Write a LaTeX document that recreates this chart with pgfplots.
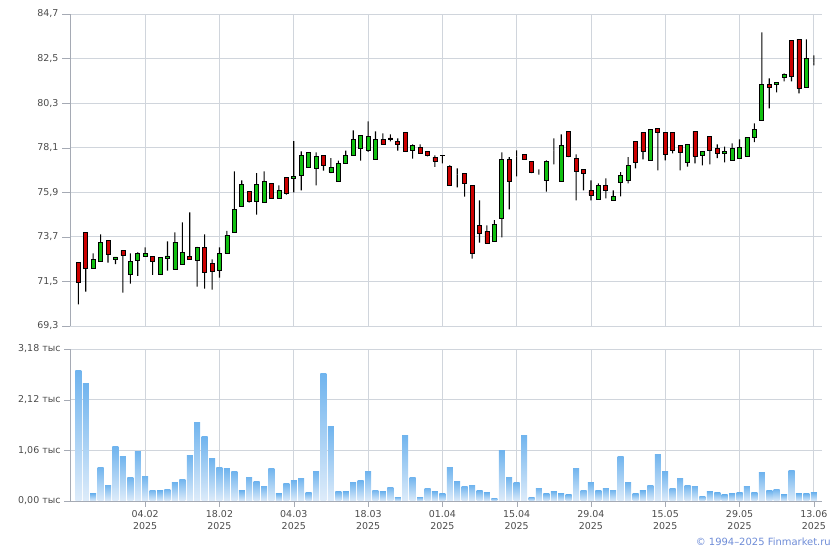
\documentclass[border=0pt]{standalone}
\usepackage{fontspec}
\setmainfont{DejaVu Sans}
\usepackage{pgfplots}
\usepackage{pgfplotstable}
\pgfplotsset{compat=1.18}

\definecolor{gridcol}{RGB}{208,213,220}
\definecolor{axiscol}{RGB}{165,170,180}
\definecolor{txtcol}{RGB}{75,75,75}
\definecolor{upgreen}{RGB}{16,192,16}
\definecolor{downred}{RGB}{204,0,0}
\definecolor{voltop}{RGB}{112,180,238}
\definecolor{volbot}{RGB}{222,236,250}
\definecolor{copyblue}{RGB}{110,140,215}

\newcommand\lbl{\fontsize{9.5}{12}\selectfont}

% daily candles, i = trading day index (22.01.2025 = 0)
\pgfplotstableread{
i o h l c
0 72.44 72.44 70.37 71.46
1 73.92 73.92 71.00 72.15
2 72.15 72.89 72.15 72.59
3 72.48 73.82 72.48 73.43
4 73.53 73.53 72.43 72.84
5 72.58 72.71 72.36 72.71
6 73.03 73.03 70.95 72.77
7 71.84 72.89 71.39 72.49
8 72.53 72.94 71.77 72.86
9 72.72 73.18 72.72 72.86
10 72.74 72.74 71.82 72.48
11 71.84 72.69 71.84 72.69
12 72.63 73.48 72.03 72.76
13 72.10 73.92 72.10 73.43
14 72.33 74.42 72.33 72.94
15 72.74 74.91 72.58 72.58
16 72.54 73.21 71.24 73.18
17 73.18 73.82 71.14 71.93
18 72.39 72.59 71.09 71.98
19 72.05 73.18 71.69 72.89
20 72.89 73.99 72.89 73.78
21 73.92 76.93 73.92 75.06
22 75.21 76.49 75.21 76.29
23 75.95 75.95 75.39 75.45
24 75.45 76.84 74.80 76.29
25 75.40 76.93 75.40 76.44
26 76.34 76.34 75.60 75.60
27 75.60 76.24 75.60 76.00
28 76.64 76.64 75.78 75.85
29 76.59 78.42 75.90 76.69
30 76.74 77.92 76.00 77.72
31 77.13 77.87 77.13 77.87
32 77.08 77.87 76.24 77.67
33 77.72 77.72 76.97 77.23
34 76.89 77.58 76.84 77.13
35 76.44 77.46 76.44 77.33
36 77.33 77.95 77.33 77.72
37 77.72 78.96 77.72 78.51
38 78.05 78.71 77.46 78.71
39 77.95 79.40 77.90 78.66
40 77.53 78.91 77.53 78.51
41 78.51 78.81 78.27 78.27
42 78.58 78.76 78.41 78.50
43 78.41 78.56 77.95 78.27
44 78.86 78.86 77.92 77.92
45 77.97 78.27 77.56 78.22
46 78.12 78.27 77.79 77.82
47 77.92 77.92 77.67 77.72
48 77.63 77.72 77.16 77.43
49 77.72 77.72 77.33 77.70
50 77.18 77.23 76.24 76.24
51 76.77 77.08 76.14 76.77
52 76.84 76.84 75.68 76.34
53 76.24 76.24 72.62 72.87
54 74.27 75.50 73.41 73.87
55 73.97 74.27 73.38 73.38
56 73.48 74.52 73.48 74.32
57 74.61 77.87 73.68 77.53
58 77.53 77.63 75.06 76.44
59 77.67 77.97 76.69 77.67
60 77.77 77.77 77.53 77.53
61 77.43 77.43 76.84 76.89
62 76.77 77.03 76.77 76.77
63 76.49 77.48 75.93 77.43
64 77.97 78.56 77.28 77.97
65 76.44 78.76 76.44 78.22
66 78.91 78.91 77.63 77.67
67 77.58 77.77 75.50 76.93
68 77.03 77.03 76.00 76.84
69 76.00 76.49 75.50 75.75
70 75.55 76.34 75.55 76.24
71 76.24 76.59 75.60 76.00
72 75.50 76.00 75.50 75.70
73 76.39 76.89 75.70 76.74
74 76.49 77.63 76.34 77.23
75 78.41 78.41 77.08 77.38
76 78.86 78.86 77.53 77.92
77 77.48 79.00 77.48 79.00
78 79.06 79.06 76.98 78.86
79 78.86 78.86 77.48 77.77
80 78.86 78.86 77.82 77.97
81 78.22 78.22 76.98 77.87
82 77.38 78.27 77.17 78.27
83 78.91 78.91 77.33 77.67
84 77.72 77.92 77.23 77.92
85 78.66 78.66 77.28 77.97
86 78.07 78.27 77.58 77.82
87 77.82 78.15 77.38 77.92
88 77.48 78.32 77.48 78.07
89 77.58 78.51 77.58 78.12
90 77.67 78.61 77.67 78.61
91 78.61 79.30 78.37 79.00
92 79.45 83.79 79.45 81.23
93 81.23 81.52 80.04 81.08
94 81.23 81.33 80.83 81.33
95 81.57 81.77 81.38 81.72
96 83.40 83.40 81.38 81.62
97 83.45 83.45 80.78 81.03
98 81.08 83.45 81.08 82.51
99 82.30 82.66 82.17 82.30
}\candles

% volume, thousands
\pgfplotstableread{
i v
0 2.72
1 2.45
2 0.15
3 0.71
4 0.33
5 1.13
6 0.94
7 0.49
8 1.03
9 0.52
10 0.23
11 0.21
12 0.25
13 0.38
14 0.46
15 0.96
16 1.65
17 1.34
18 0.88
19 0.71
20 0.67
21 0.61
22 0.21
23 0.50
24 0.40
25 0.31
26 0.69
27 0.15
28 0.36
29 0.42
30 0.48
31 0.17
32 0.61
33 2.66
34 1.55
35 0.19
36 0.19
37 0.38
38 0.42
39 0.61
40 0.23
41 0.19
42 0.29
43 0.08
44 1.38
45 0.50
46 0.08
47 0.27
48 0.19
49 0.15
50 0.71
51 0.40
52 0.31
53 0.33
54 0.21
55 0.17
56 0.06
57 1.05
58 0.50
59 0.38
60 1.38
61 0.08
62 0.27
63 0.15
64 0.19
65 0.15
66 0.13
67 0.69
68 0.23
69 0.38
70 0.21
71 0.27
72 0.23
73 0.94
74 0.38
75 0.15
76 0.21
77 0.33
78 0.98
79 0.61
80 0.27
81 0.48
82 0.33
83 0.31
84 0.10
85 0.19
86 0.17
87 0.13
88 0.15
89 0.17
90 0.31
91 0.17
92 0.59
93 0.21
94 0.25
95 0.13
96 0.63
97 0.15
98 0.15
99 0.17
}\volume

\begin{document}
\begin{tikzpicture}
\useasboundingbox (0,0) rectangle (840bp,550bp);

% price panel
\begin{axis}[
  at={(70bp,224bp)}, anchor=south west,
  width=752bp, height=312bp, scale only axis,
  xmin=-1.12, xmax=100.1, ymin=69.3, ymax=84.7,
  axis x line*=bottom, axis y line*=left,
  x axis line style={draw=gridcol},
  y axis line style={draw=axiscol},
  xtick={9,19,...,99}, xticklabels={}, xtick style={draw=none},
  ytick={69.3,71.5,73.7,75.9,78.1,80.3,82.5,84.7},
  ytick style={draw=axiscol},
  tick align=outside, major tick length=8bp,
  yticklabel={\pgfmathprintnumber[fixed,fixed zerofill,precision=1,use comma,assume math mode=true]{\tick}},
  ticklabel style={font=\lbl, text=txtcol},
  grid=major, grid style={draw=gridcol, line width=0.8bp},
  ybar stacked,
]
\addplot[draw=none, fill=none, bar width=4bp] table[x=i, y=l] {\candles};
\addplot[draw=none, fill=black, bar width=1.1bp] table[x=i, y expr={min(\thisrow{o},\thisrow{c})-\thisrow{l}}] {\candles};
\addplot[draw=black, fill=upgreen, line width=0.75bp, bar width=4bp] table[x=i, y expr={max(\thisrow{c}-\thisrow{o},0)}] {\candles};
\addplot[draw=black, fill=downred, line width=0.75bp, bar width=4bp] table[x=i, y expr={max(\thisrow{o}-\thisrow{c},0)}] {\candles};
\addplot[draw=none, fill=black, bar width=1.1bp] table[x=i, y expr={\thisrow{h}-max(\thisrow{o},\thisrow{c})}] {\candles};
\end{axis}

% volume panel
\begin{axis}[
  at={(70bp,49bp)}, anchor=south west,
  width=752bp, height=152bp, scale only axis,
  xmin=-1.12, xmax=100.1, ymin=0, ymax=3.18,
  axis x line*=bottom, axis y line*=left,
  axis line style={draw=axiscol},
  xtick={9,19,...,99},
  xticklabels={{04.02\\2025},{18.02\\2025},{04.03\\2025},{18.03\\2025},{01.04\\2025},{15.04\\2025},{29.04\\2025},{15.05\\2025},{29.05\\2025},{13.06\\2025}},
  xticklabel style={align=center},
  ytick={0,1.06,2.12,3.18},
  yticklabel={\pgfmathprintnumber[fixed,fixed zerofill,precision=2,use comma,assume math mode=true]{\tick}~тыс},
  tick align=outside, major tick length=6bp, tick style={draw=axiscol},
  ticklabel style={font=\lbl, text=txtcol},
  grid=major, grid style={draw=gridcol, line width=0.8bp},
]
% one plot per day, so that each bar gets its own gradient
\pgfplotsinvokeforeach{0,...,99}{
  \addplot[ybar, bar width=6bp, bar shift=0pt, draw=none, top color=voltop, bottom color=volbot,
    restrict x to domain=#1:#1] table[x=i, y=v] {\volume};
}
\end{axis}

\node[anchor=east, text=copyblue, font=\fontsize{10}{12}\selectfont, inner sep=0pt] at (831bp,8bp) {© 1994–2025 Finmarket.ru};
\end{tikzpicture}
\end{document}
